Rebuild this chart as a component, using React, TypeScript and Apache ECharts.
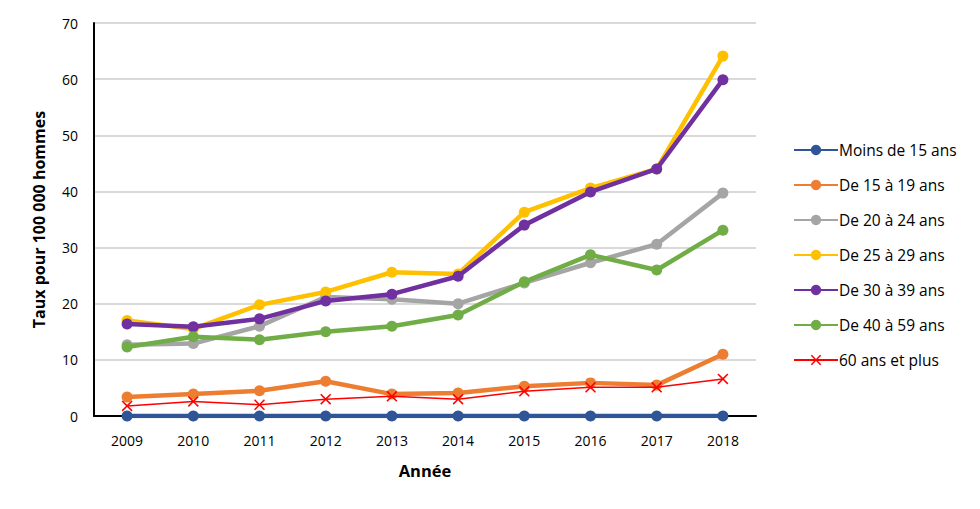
import React, { useEffect, useRef } from "react";
import * as echarts from "echarts";

const years = ["2009", "2010", "2011", "2012", "2013", "2014", "2015", "2016", "2017", "2018"];
const seriesNames = [
  "Moins de 15 ans",
  "De 15 à 19 ans",
  "De 20 à 24 ans",
  "De 25 à 29 ans",
  "De 30 à 39 ans",
  "De 40 à 59 ans",
  "60 ans et plus",
];
const moins15 = [0, 0, 0, 0, 0, 0, 0, 0, 0, 0];
const de15a19 = [3.4, 3.9, 4.5, 6.2, 3.9, 4.1, 5.3, 5.9, 5.5, 11.0];
const de20a24 = [12.7, 12.9, 16.0, 21.2, 20.8, 20.0, 23.7, 27.3, 30.6, 39.7];
const de25a29 = [17.0, 15.5, 19.8, 22.1, 25.6, 25.3, 36.3, 40.6, 44.0, 64.1];
const de30a39 = [16.4, 15.9, 17.3, 20.5, 21.7, 24.9, 34.0, 39.9, 44.0, 59.9];
const de40a59 = [12.3, 14.1, 13.6, 15.0, 16.0, 18.0, 23.9, 28.7, 26.0, 33.1];
const plus60 = [1.8, 2.6, 2.0, 3.0, 3.5, 3.0, 4.4, 5.1, 5.1, 6.6];
const colors = ["#2F5597", "#ED7D31", "#A5A5A5", "#FFC000", "#7030A0", "#70AD47", "#FF0000"];

const FONT = "'Open Sans', 'Noto Sans', sans-serif";
const X_PATH =
  "path://M0,1 L1,0 L5,4 L9,0 L10,1 L6,5 L10,9 L9,10 L5,6 L1,10 L0,9 L4,5 Z";

export default function App() {
  const ref = useRef<HTMLDivElement>(null);
  useEffect(() => {
    if (!ref.current) return;
    const chart = echarts.init(ref.current, undefined, { renderer: "svg" });
    const data = [moins15, de15a19, de20a24, de25a29, de30a39, de40a59, plus60];
    const series = data.map((d, i) => {
      const isRed = i === 6;
      return {
        name: seriesNames[i],
        type: "line",
        data: d,
        symbol: isRed ? X_PATH : "circle",
        symbolSize: 11,
        showSymbol: true,
        lineStyle: { color: colors[i], width: isRed ? 1.5 : 4.5 },
        itemStyle: { color: colors[i] },
        z: 2 + i,
      };
    });
    chart.setOption({
      animation: false,
      color: colors,
      textStyle: { fontFamily: FONT },
      grid: { left: 94, right: 224, top: 23, bottom: 93, containLabel: false },
      legend: {
        orient: "vertical",
        left: 788,
        top: 137,
        itemGap: 19,
        itemWidth: 44,
        itemHeight: 13,
        data: seriesNames,
        textStyle: { fontSize: 15.5, color: "#000", fontFamily: FONT, padding: [0, 0, 0, -4] },
      },
      xAxis: {
        type: "category",
        data: years,
        boundaryGap: true,
        name: "Année",
        nameLocation: "middle",
        nameGap: 46,
        nameTextStyle: { fontSize: 16.5, fontWeight: "bold", color: "#000", fontFamily: FONT },
        axisLine: { lineStyle: { color: "#000", width: 2 } },
        axisTick: { show: false },
        axisLabel: { fontSize: 14, color: "#000", margin: 17, fontFamily: FONT },
      },
      yAxis: {
        type: "value",
        min: 0,
        max: 70,
        interval: 10,
        name: "Taux pour 100 000 hommes",
        nameLocation: "middle",
        nameGap: 47,
        nameTextStyle: { fontSize: 16, fontWeight: "bold", color: "#000", fontFamily: FONT },
        axisLine: { show: true, lineStyle: { color: "#000", width: 2 } },
        axisTick: { show: false },
        axisLabel: { fontSize: 14, color: "#000", margin: 16, fontFamily: FONT },
        splitLine: { lineStyle: { color: "#D9D9D9", width: 2 } },
      },
      series,
    });
    return () => chart.dispose();
  }, []);
  return (
    <div
      ref={ref}
      style={{ position: "fixed", left: 0, top: 0, width: 980, height: 509, background: "#fff" }}
    />
  );
}
